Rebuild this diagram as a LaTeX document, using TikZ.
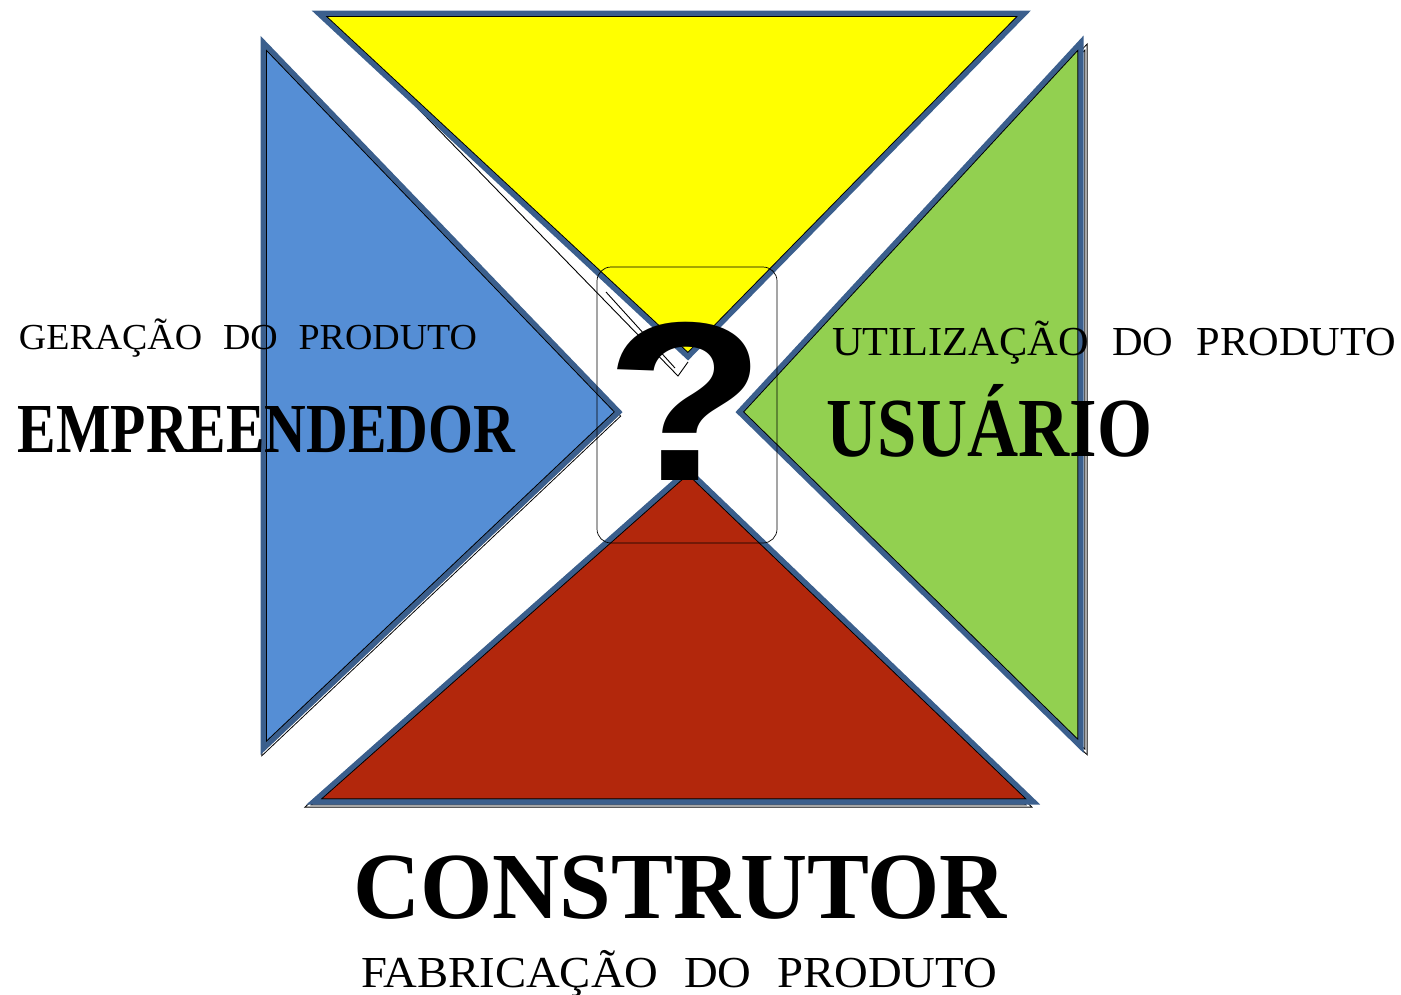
\documentclass[tikz,border=0pt]{standalone}
\usepackage{fontspec}
\setmainfont{Liberation Serif}
\newfontfamily\qfont{Liberation Sans}
\usepackage{graphicx}
\definecolor{tyellow}{HTML}{FFFF00}
\definecolor{tblue}{HTML}{558ED5}
\definecolor{tgreen}{HTML}{92D050}
\definecolor{tred}{HTML}{B2270C}
\definecolor{edgeblue}{HTML}{3B5F8D}
\newcommand\fitcaps[3]{\resizebox{#1}{#2}{\rule{0pt}{0.655em}\smash{#3}}}
\newcommand\mainshape[4]{%
  \fill[#4] #1 -- #2 -- #3 -- cycle;
  \begin{scope}
    \clip #1 -- #2 -- #3 -- cycle;
    \draw[black,line width=7.5pt,line join=miter] #1 -- #2 -- #3 -- cycle;
    \draw[edgeblue,line width=5.5pt,line join=miter] #1 -- #2 -- #3 -- cycle;
  \end{scope}
  \draw[edgeblue,line width=5pt,line join=miter] #1 -- #2 -- #3 -- cycle;
}
\newcommand\shadowshape[4]{%
  \begin{scope}[shift={#4}]
    \draw[black,line width=3.2pt,line join=miter] #1 -- #2 -- #3 -- cycle;
    \draw[white,line width=1.3pt,line join=miter] #1 -- #2 -- #3 -- cycle;
  \end{scope}
}
\begin{document}
\begin{tikzpicture}[x=1pt,y=-1pt,
  lbl/.style={anchor=base west,inner sep=0pt,outer sep=0pt},
  thinline/.style={draw=black,line width=0.9pt}]
\useasboundingbox (0,0) rectangle (1401,994);
% shadows
\shadowshape{(263,42)}{(263,749)}{(619,412)}{(0,4)}
\shadowshape{(1081,42)}{(1081,747)}{(739,412)}{(5,5)}
\shadowshape{(313,802)}{(1034,802)}{(688,470)}{(-5,4)}
% stray outline of the top triangle
\coordinate (ya) at (326,14);
\coordinate (yb) at (678,376);
\coordinate (yc) at (688,362);
\draw[thinline] (ya) -- (yb) -- (yc);
\coordinate (yd) at (606,292);
\coordinate (ye) at (675,368);
\draw[thinline] (yd) -- (ye);
% triangles
\mainshape{(318,13)}{(1025,13)}{(688,357)}{tyellow}
\mainshape{(263,42)}{(263,749)}{(619,412)}{tblue}
\mainshape{(1081,42)}{(1081,747)}{(739,412)}{tgreen}
\mainshape{(313,802)}{(1034,802)}{(688,470)}{tred}
% rounded frame
\draw[black,line width=0.7pt,rounded corners=14pt] (597,267) rectangle (777,543);
% question mark
\node[anchor=base,inner sep=0pt] (q) at (686,480) {\resizebox{160pt}{158pt}{\qfont\bfseries ?}};
% labels
\node[lbl] (ger) at (19,349) {\fitcaps{458pt}{24pt}{GERAÇÃO\hspace{0.55em}DO\hspace{0.55em}PRODUTO}};
\node[lbl] (emp) at (18,452) {\fitcaps{497pt}{46pt}{\bfseries EMPREENDEDOR}};
\node[lbl] (uti) at (832,355) {\fitcaps{564pt}{27pt}{UTILIZAÇÃO\hspace{0.55em}DO\hspace{0.55em}PRODUTO}};
\node[lbl] (usu) at (826,456) {\fitcaps{326pt}{55pt}{\bfseries USUÁRIO}};
\node[lbl] (con) at (353,918) {\fitcaps{654pt}{62pt}{\bfseries CONSTRUTOR}};
\node[lbl] (fab) at (361,987) {\fitcaps{636pt}{29pt}{FABRICAÇÃO\hspace{0.55em}DO\hspace{0.55em}PRODUTO}};
\end{tikzpicture}
\end{document}
